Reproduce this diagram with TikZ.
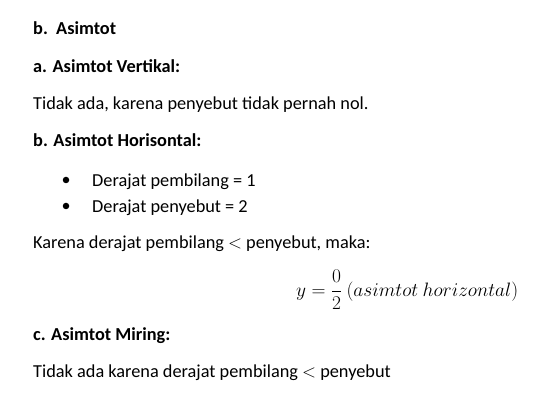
\documentclass[tikz,border=0pt]{standalone}
\usepackage{fix-cm}
\usepackage{fontspec}
\setmainfont{Carlito}
\begin{document}
\begin{tikzpicture}[x=1pt,y=-1pt,
  txt/.style={anchor=base west,inner sep=0pt,font=\fontsize{18.3}{22}\selectfont},
  hd/.style={txt,font=\fontsize{18.3}{22}\selectfont\bfseries},
  bul/.style={circle,fill=black,inner sep=0pt,minimum size=6.5pt}]
\useasboundingbox[fill=white] (0,0) rectangle (536,417);
\node[hd] (t0) at (33,35) {b.\ \ Asimtot};
\node[hd] (t1) at (33,73) {a. Asimtot Vertikal:};
\node[txt] (t2) at (33,110) {Tidak ada, karena penyebut tidak pernah nol.};
\node[hd] (t3) at (33,147) {b. Asimtot Horisontal:};
\node[bul] (b1) at (66,180) {};
\node[txt] (l1) at (92,186) {Derajat pembilang = 1};
\node[bul] (b2) at (66,206) {};
\node[txt] (l2) at (92,212) {Derajat penyebut = 2};
\node[txt] (t4) at (33,248) {Karena derajat pembilang $<$ penyebut, maka:};
\node[txt,font=\fontsize{19.4}{23}\selectfont] (eq) at (296,296) {$\displaystyle y=\frac{0}{2}\ (asimtot\ horizontal)$};
\node[hd] (t5) at (33,340) {c. Asimtot Miring:};
\node[txt] (t6) at (33,377) {Tidak ada karena derajat pembilang $<$ penyebut};
\end{tikzpicture}
\end{document}
